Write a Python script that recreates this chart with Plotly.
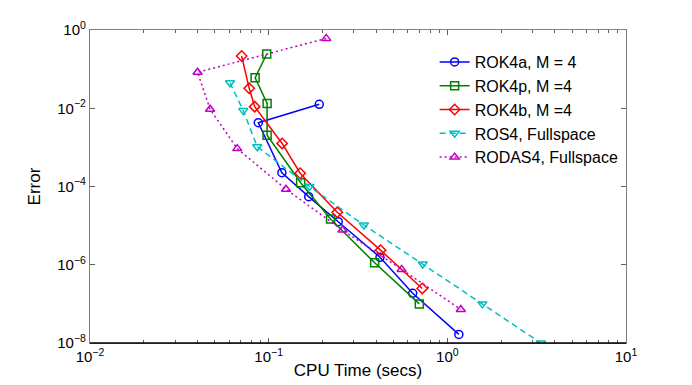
import plotly.graph_objects as go

# ROK4a, M = 4
rok4a_t = [0.192, 0.0875, 0.1186, 0.1675, 0.245, 0.42, 0.64, 1.16]
rok4a_e = [1.26e-2, 4.27e-3, 2.25e-4, 5.5e-5, 1.26e-5, 1.55e-6, 1.86e-7, 1.66e-8]
# ROK4p, M = 4
rok4p_t = [0.0975, 0.084, 0.098, 0.098, 0.151, 0.222, 0.392, 0.697]
rok4p_e = [0.243, 0.060, 1.33e-2, 2.05e-3, 1.25e-4, 1.47e-5, 1.12e-6, 1.0e-7]
# ROK4b, M = 4
rok4b_t = [0.0706, 0.0778, 0.0835, 0.119, 0.150, 0.242, 0.423, 0.724]
rok4b_e = [0.216, 0.0323, 1.1e-2, 1.26e-3, 2.18e-4, 2.19e-5, 2.36e-6, 2.48e-7]
# ROS4, Fullspace
ros4_t = [0.0607, 0.0721, 0.0863, 0.169, 0.341, 0.728, 1.57, 3.34]
ros4_e = [0.045, 8.7e-3, 1.04e-3, 1.0e-4, 1.04e-5, 1.04e-6, 1.0e-7, 1.0e-8]
# RODAS4, Fullspace
rodas4_t = [0.21, 0.040, 0.047, 0.0667, 0.125, 0.259, 0.555, 1.19]
rodas4_e = [0.61, 0.083, 9.4e-3, 9.3e-4, 8.5e-5, 7.7e-6, 7.6e-7, 7.2e-8]

# tick labels
x_tickvals = [1e-2, 1e-1, 1e0, 1e1]
x_ticktext = ["10<sup>−2</sup>", "10<sup>−1</sup>", "10<sup>0</sup>", "10<sup>1</sup>"]
y_tickvals = [1e-8, 1e-6, 1e-4, 1e-2, 1e0]
y_ticktext = ["10<sup>−8</sup>", "10<sup>−6</sup>", "10<sup>−4</sup>", "10<sup>−2</sup>", "10<sup>0</sup>"]

series = [
    ("ROK4a, M = 4", rok4a_t, rok4a_e, "#0000FF", "solid", "circle-open"),
    ("ROK4p, M =4", rok4p_t, rok4p_e, "#008000", "solid", "square-open"),
    ("ROK4b, M =4", rok4b_t, rok4b_e, "#FF0000", "solid", "diamond-open"),
    ("ROS4, Fullspace", ros4_t, ros4_e, "#00BFBF", "6px,4px", "triangle-down-open"),
    ("RODAS4, Fullspace", rodas4_t, rodas4_e, "#BF00BF", "2px,3px", "triangle-up-open"),
]

fig = go.Figure()
for name, xs, ys, col, dash, sym in series:
    fig.add_trace(go.Scatter(
        x=xs, y=ys, name=name, mode="lines+markers",
        line=dict(color=col, width=1.5, dash=dash),
        marker=dict(symbol=sym, size=8, color=col, line=dict(width=1.5, color=col)),
    ))

font = "Liberation Sans, Arial, sans-serif"
# page body adds an 8px margin, so the figure is 8px smaller and shifted
fig.update_layout(
    width=684, height=377,
    margin=dict(l=82, r=66, t=22, b=42),
    paper_bgcolor="white", plot_bgcolor="white",
    font=dict(family=font, size=14, color="black"),
    showlegend=True,
    legend=dict(x=0.643, y=0.952, xanchor="left", yanchor="top",
                bgcolor="rgba(255,255,255,0)", borderwidth=0,
                font=dict(size=16), tracegroupgap=0, itemwidth=30),
    xaxis=dict(
        type="log", range=[-2, 1], tickvals=x_tickvals, ticktext=x_ticktext,
        showgrid=False, zeroline=False, automargin=False,
        showline=True, linecolor="#808080", linewidth=1.2, mirror="ticks",
        ticks="inside", ticklen=5, tickcolor="#606060",
        minor=dict(dtick="D1", ticks="inside", ticklen=3, tickcolor="#606060", showgrid=False),
        title=dict(text="CPU Time (secs)", font=dict(size=17), standoff=0),
        tickfont=dict(size=15),
    ),
    yaxis=dict(
        type="log", range=[-8, 0], tickvals=y_tickvals, ticktext=y_ticktext,
        showgrid=False, zeroline=False, automargin=False,
        showline=True, linecolor="#808080", linewidth=1.2, mirror="ticks",
        ticks="inside", ticklen=5, tickcolor="#606060",
        title=dict(text="Error", font=dict(size=17), standoff=12),
        tickfont=dict(size=15),
    ),
)
# black bottom axis line as in the reference
fig.add_shape(type="line", xref="paper", yref="paper", x0=0, x1=1, y0=0, y1=0,
              line=dict(color="black", width=1.5))

fig.write_html("out.html")
